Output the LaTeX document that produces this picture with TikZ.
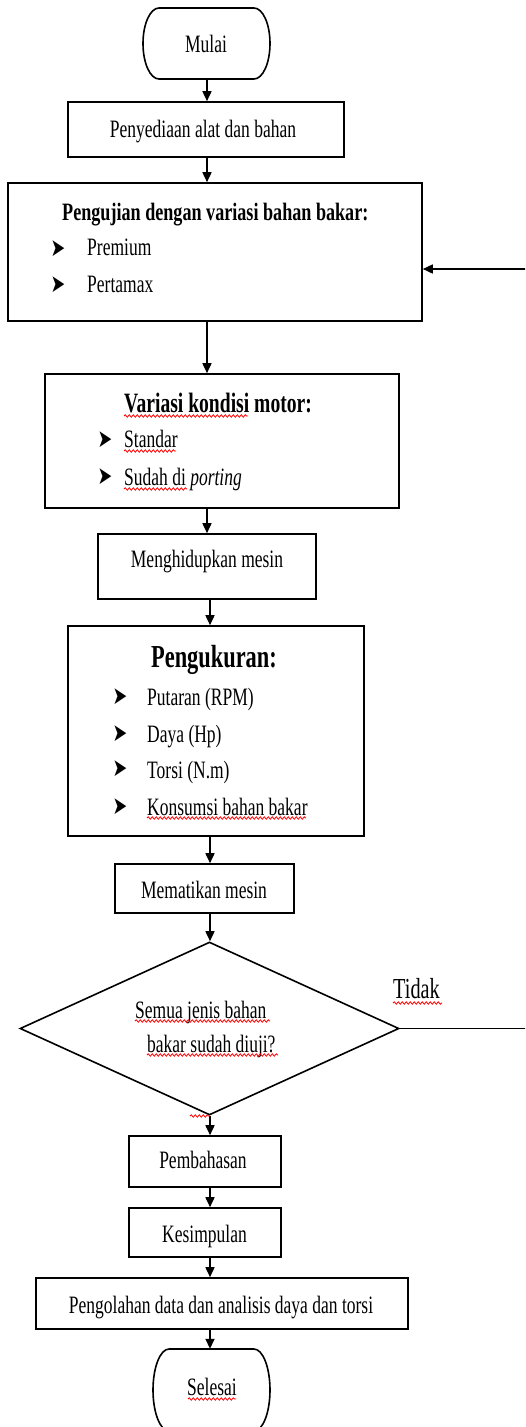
\documentclass[tikz,border=0pt]{standalone}
\usepackage{fontspec}
\setmainfont{Liberation Serif}
\newfontfamily\djv{DejaVu Sans}
\usetikzlibrary{arrows.meta,shapes.geometric,decorations.pathmorphing}
\newcommand{\sq}[1]{\scalebox{0.7}[1]{#1}}
\newcommand{\tq}[1]{\scalebox{0.725}[1]{#1}}
\newcommand{\bq}[1]{\scalebox{0.7}[1]{#1}}
\tikzset{
  box/.style={draw, line width=1.6pt, rectangle, inner sep=0pt},
  ghost/.style={inner sep=0pt},
  outline/.style={line width=1.6pt},
  tx/.style={inner sep=0pt, font=\fontsize{25}{30}\selectfont},
  ttl/.style={inner sep=0pt, font=\bfseries\fontsize{25}{30}\selectfont},
  bul/.style={inner sep=0pt, font=\djv\fontsize{25}{25}\selectfont},
  arr/.style={line width=1.6pt, -{Triangle[length=10pt,width=9pt]}},
  ln/.style={line width=1.6pt},
  spell/.style={red, line width=0.8pt, decorate, decoration={snake, segment length=4pt, amplitude=1.2pt}}
}
\begin{document}
\begin{tikzpicture}[x=1pt,y=-1pt]
\useasboundingbox (0,0) rectangle (525,1427);
\clip (0,0) rectangle (525,1427);
\coordinate (sa) at (207,0);
\coordinate (sb) at (210,0);

% Mulai
\node[ghost, minimum width=127pt, minimum height=71pt] (mulai) at (206.5,43.5) {};
\draw[outline] (159,8) -- (254,8) .. controls (262.8,8) and (270,23.9) .. (270,43.5)
  .. controls (270,63.1) and (262.8,79) .. (254,79) -- (159,79)
  .. controls (150.2,79) and (143,63.1) .. (143,43.5)
  .. controls (143,23.9) and (150.2,8) .. (159,8) -- cycle;
\node[tx, anchor=base] (mulai-t) at (206,52) {\sq{Mulai}};

% Penyediaan
\node[box, minimum width=276pt, minimum height=55pt] (peny) at (206,129.5) {};
\node[tx, anchor=base] (peny-t) at (203,137) {\sq{Penyediaan alat dan bahan}};

% Pengujian
\node[box, minimum width=414pt, minimum height=138pt] (peng) at (215,252) {};
\node[ttl, anchor=base west] (peng-t) at (62,220) {\tq{Pengujian dengan variasi bahan bakar:}};
\node[bul] (peng-b1) at (58,249) {\bq{➤}};
\node[bul] (peng-b2) at (58,285) {\bq{➤}};
\node[tx, anchor=base west] (peng-i1) at (87,255) {\sq{Premium}};
\node[tx, anchor=base west] (peng-i2) at (87,292) {\sq{Pertamax}};

% Variasi
\node[box, minimum width=354pt, minimum height=134pt] (var) at (222,441) {};
\node[ttl, font=\bfseries\fontsize{28}{30}\selectfont, anchor=base west] (var-t) at (124,412) {\sq{Variasi kondisi motor:}};
\node[bul] (var-b1) at (105,440) {\bq{➤}};
\node[bul] (var-b2) at (105,477) {\bq{➤}};
\node[tx, anchor=base west] (var-i1) at (124,447) {\sq{Standar}};
\node[tx, anchor=base west] (var-i2) at (124,485) {\sq{Sudah di \textit{porting}}};

% Menghidupkan
\node[box, minimum width=218pt, minimum height=65pt] (hidup) at (207,566.5) {};
\node[tx, anchor=base] (hidup-t) at (207,567) {\sq{Menghidupkan mesin}};

% Pengukuran
\node[box, minimum width=296pt, minimum height=210pt] (ukur) at (216,731) {};
\node[ttl, font=\bfseries\fontsize{32}{36}\selectfont, anchor=base] (ukur-t) at (214,667) {\sq{Pengukuran:}};
\node[bul] (ukur-b1) at (120,697) {\bq{➤}};
\node[bul] (ukur-b2) at (120,734) {\bq{➤}};
\node[bul] (ukur-b3) at (120,769) {\bq{➤}};
\node[bul] (ukur-b4) at (120,807) {\bq{➤}};
\node[tx, anchor=base west] (ukur-i1) at (147,705) {\sq{Putaran (RPM)}};
\node[tx, anchor=base west] (ukur-i2) at (147,742) {\sq{Daya (Hp)}};
\node[tx, anchor=base west] (ukur-i3) at (147,778) {\sq{Torsi (N.m)}};
\node[tx, anchor=base west] (ukur-i4) at (147,815) {\sq{Konsumsi bahan bakar}};

% Mematikan
\node[box, minimum width=179pt, minimum height=49pt] (mati) at (204.5,888.5) {};
\node[tx, anchor=base] (mati-t) at (204,898) {\sq{Mematikan mesin}};

% Decision
\node[draw, diamond, line width=1.6pt, inner sep=0pt, aspect=2.19, minimum width=379pt, minimum height=173pt] (dec) at (209.5,1028.5) {};
\node[tx, anchor=base west] (dec-t1) at (135,1018) {\sq{Semua jenis bahan}};
\node[tx, anchor=base west] (dec-t2) at (147,1052) {\sq{bakar sudah diuji?}};
\node[tx, font=\fontsize{29}{30}\selectfont, anchor=base west] (tidak) at (393,998) {\sq{Tidak}};

% Pembahasan, Kesimpulan, Pengolahan
\node[box, minimum width=152pt, minimum height=51pt] (bahas) at (205,1161.5) {};
\node[tx, anchor=base] (bahas-t) at (203,1168) {\sq{Pembahasan}};
\node[box, minimum width=152pt, minimum height=49pt] (simpul) at (205,1232.5) {};
\node[tx, anchor=base] (simpul-t) at (204.5,1242) {\sq{Kesimpulan}};
\node[box, minimum width=372pt, minimum height=51pt] (olah) at (222,1303.5) {};
\node[tx, anchor=base] (olah-t) at (221,1313) {\sq{Pengolahan data dan analisis daya dan torsi}};

% Selesai
\node[ghost, minimum width=117pt, minimum height=82pt] (selesai) at (211.5,1390) {};
\draw[outline] (169,1349) -- (254,1349) .. controls (262.8,1349) and (270,1367.4) .. (270,1390)
  .. controls (270,1412.6) and (262.8,1431) .. (254,1431) -- (169,1431)
  .. controls (160.2,1431) and (153,1412.6) .. (153,1390)
  .. controls (153,1367.4) and (160.2,1349) .. (169,1349) -- cycle;
\node[tx, anchor=base] (selesai-t) at (212,1395) {\sq{Selesai}};

% connectors
\draw[arr] (mulai.south -| sa) -- (peny.north -| sa);
\draw[arr] (peny.south -| sa) -- (peng.north -| sa);
\draw[arr] (peng.south -| sa) -- (var.north -| sa);
\draw[arr] (var.south -| sa) -- (hidup.north -| sa);
\draw[arr] (hidup.south -| sb) -- (ukur.north -| sb);
\draw[arr] (ukur.south -| sb) -- (mati.north -| sb);
\draw[arr] (mati.south -| sb) -- (dec.north -| sb);
\draw[arr] (dec.south -| sb) -- (bahas.north -| sb);
\draw[arr] (bahas.south -| sb) -- (simpul.north -| sb);
\draw[arr] (simpul.south -| sb) -- (olah.north -| sb);
\draw[arr] (olah.south -| sb) -- (selesai.north -| sb);
\draw[arr] (dec.east) -- ++(140,0) |- ([yshift=-17pt]peng.east);

% spelling marks
\draw[spell] (124,416) -- (248,416);
\draw[spell] (124,451) -- (176,451);
\draw[spell] (124,489) -- (187,489);
\draw[spell] (147,818) -- (306,818);
\draw[spell] (393,1003) -- (442,1003);
\draw[spell] (135,1021) -- (270,1021);
\draw[spell] (147,1055) -- (278,1055);
\draw[spell] (188,1399) -- (236,1399);
\draw[spell] (190,1116) -- (210,1116);
\end{tikzpicture}
\end{document}
